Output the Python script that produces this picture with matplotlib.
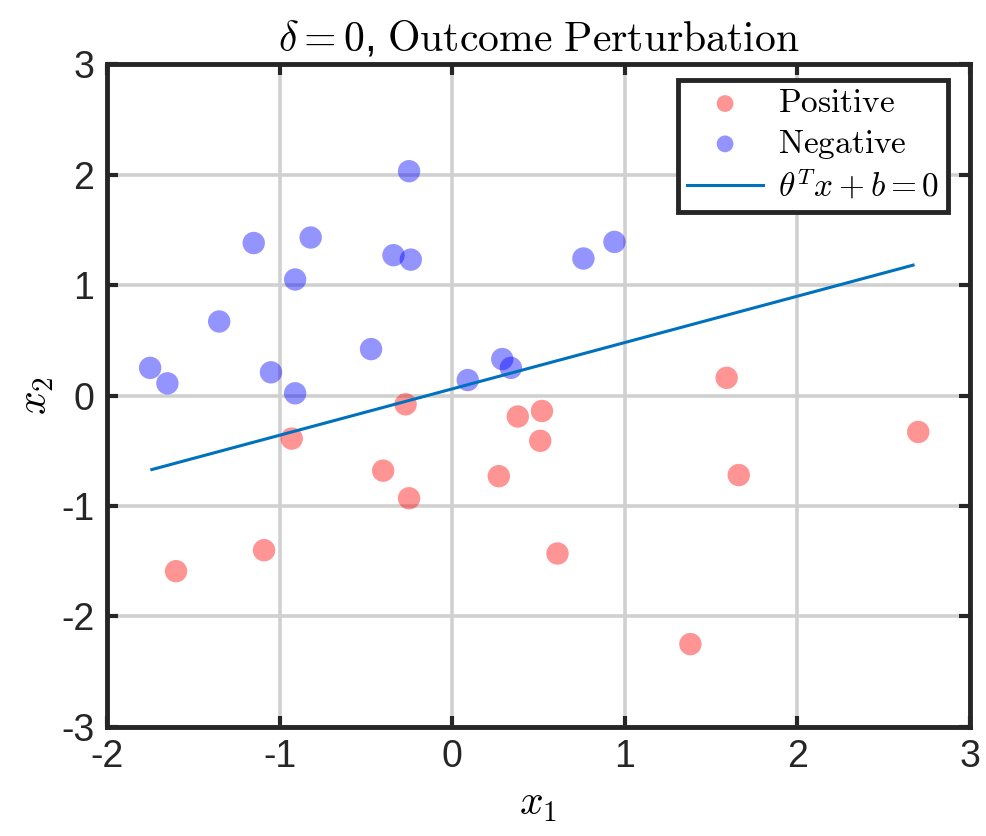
"""Recreate the outcome perturbation scatter (delta = 0)."""

import matplotlib

matplotlib.use("Agg")
from matplotlib import pyplot as plt  # noqa: E402

plt.rcParams["mathtext.fontset"] = "cm"
plt.rcParams["font.family"] = ["Liberation Sans", "DejaVu Sans"]

POS_X = [-1.60, -1.09, -0.93, -0.40, -0.27, -0.25, 0.27, 0.38, 0.52, 0.51,
         0.61, 1.38, 1.59, 1.66, 2.70]
POS_Y = [-1.59, -1.40, -0.39, -0.68, -0.08, -0.93, -0.73, -0.19, -0.14, -0.41,
         -1.43, -2.25, 0.16, -0.72, -0.33]

NEG_X = [-1.75, -1.65, -1.35, -1.15, -1.05, -0.91, -0.91, -0.82, -0.47, -0.34,
         -0.25, -0.24, 0.09, 0.29, 0.34, 0.76, 0.94]
NEG_Y = [0.25, 0.11, 0.67, 1.38, 0.21, 1.05, 0.02, 1.43, 0.42, 1.27,
         2.03, 1.23, 0.14, 0.33, 0.25, 1.24, 1.39]

LINE_X = [-1.74, 2.67]
LINE_Y = [-0.67, 1.18]

X_TICKS = [-2, -1, 0, 1, 2, 3]
Y_TICKS = [-3, -2, -1, 0, 1, 2, 3]

fig = plt.figure(figsize=(9.87, 8.36), dpi=100)
ax = fig.add_axes([0.1084, 0.1304, 0.8744, 0.793])

ax.scatter(POS_X, POS_Y, s=260, color="#ff0000", alpha=0.42, edgecolors="none",
           label=r"$\mathrm{Positive}$", zorder=3)
ax.scatter(NEG_X, NEG_Y, s=260, color="#0000ff", alpha=0.42, edgecolors="none",
           label=r"$\mathrm{Negative}$", zorder=3)
ax.plot(LINE_X, LINE_Y, color="#0072BD", linewidth=2.2,
        label=r"$\theta^T x + b = 0$", zorder=4)

ax.set_xlim(-2, 3)
ax.set_ylim(-3, 3)
ax.set_xticks(X_TICKS, labels=[str(t) for t in X_TICKS])
ax.set_yticks(Y_TICKS, labels=[str(t) for t in Y_TICKS])
ax.tick_params(direction="in", length=8, width=3, labelsize=27, pad=9,
               colors="#262626", top=True, right=True,
               labeltop=False, labelright=False)
ax.grid(True, color="#d0d0d0", linewidth=2.6)
ax.set_axisbelow(True)
for spine in ax.spines.values():
    spine.set_linewidth(3.5)
    spine.set_color("#262626")

ax.set_title(r"$\delta = 0$, $\mathrm{Outcome\ Perturbation}$", fontsize=30, pad=10)
ax.set_xlabel(r"$x_1$", fontsize=30, labelpad=6)
ax.set_ylabel(r"$x_2$", fontsize=30, labelpad=4)

leg = ax.legend(loc="upper right", bbox_to_anchor=(0.9745, 0.976),
                fontsize=24, fancybox=False, framealpha=1,
                edgecolor="#262626", handlelength=2.3, borderaxespad=0,
                labelspacing=0.25, handletextpad=0.45, borderpad=0.25,
                markerscale=0.75)
leg.get_frame().set_linewidth(3.5)

fig.savefig("out.png", dpi=100, facecolor="white")
